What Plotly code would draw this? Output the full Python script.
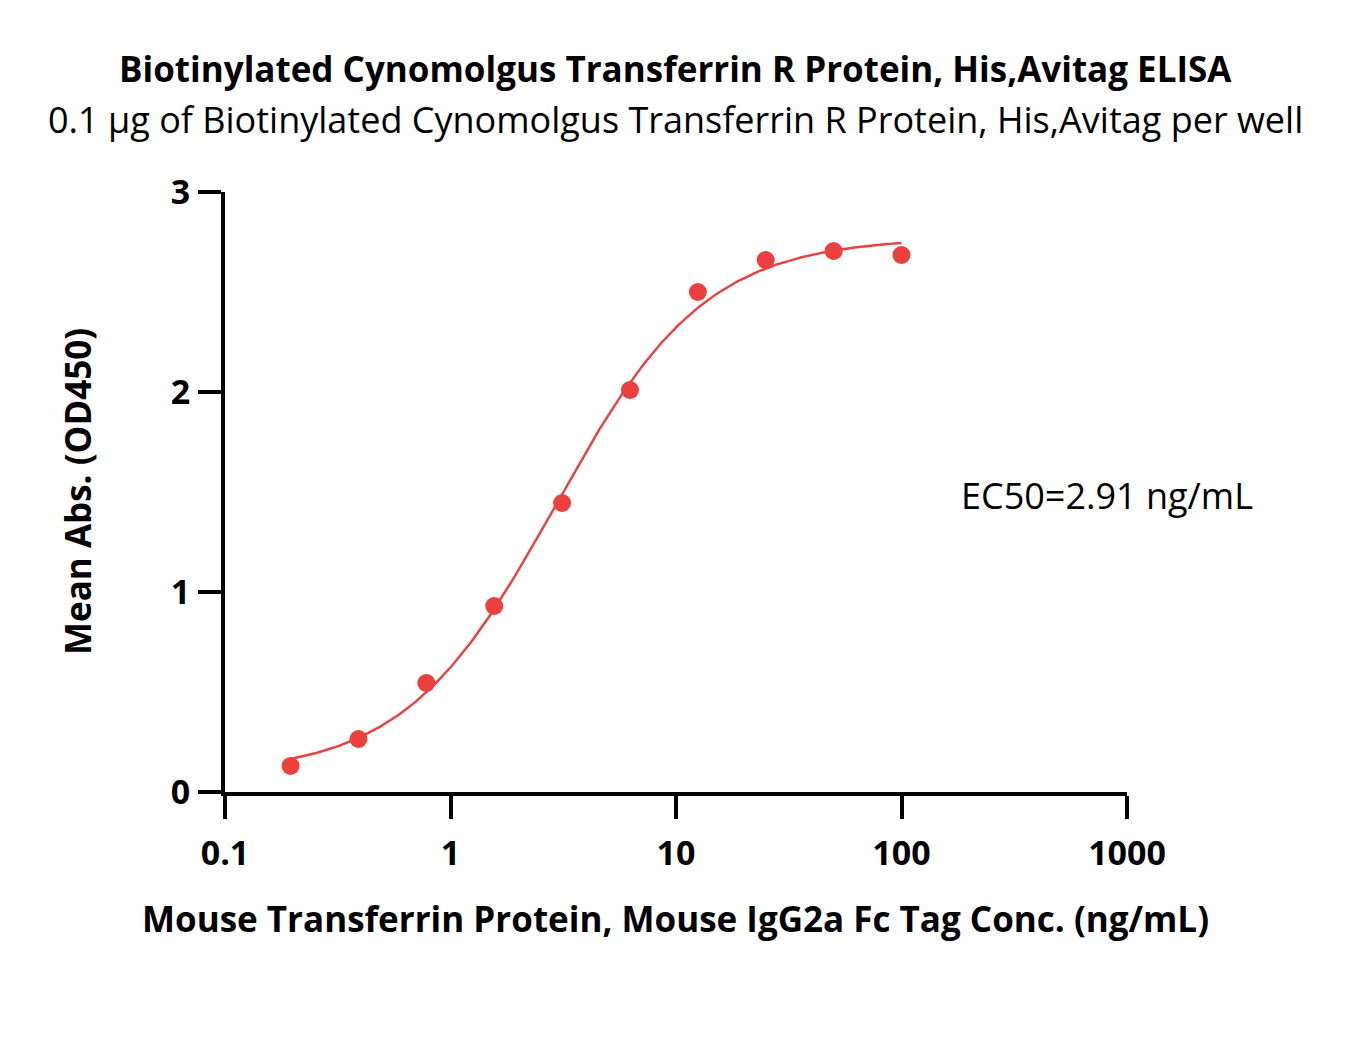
import numpy as np
import plotly.graph_objects as go

# Data
conc = [0.1953, 0.3906, 0.7813, 1.5625, 3.125, 6.25, 12.5, 25, 50, 100]
absorb = [0.13, 0.265, 0.545, 0.93, 1.445, 2.01, 2.50, 2.66, 2.705, 2.685]

# 4-parameter logistic fit parameters (estimated from the drawn curve)
fit_bottom = 0.087
fit_top = 2.772
fit_ec50 = 2.91
fit_hill = 1.3

x_ticks = [0.1, 1, 10, 100, 1000]
x_tick_text = ["0.1", "1", "10", "100", "1000"]
y_ticks = [0, 1, 2, 3]

title = "Biotinylated Cynomolgus Transferrin R Protein, His,Avitag ELISA"
subtitle = "0.1 µg of Biotinylated Cynomolgus Transferrin R Protein, His,Avitag per well"
x_title = "Mouse Transferrin Protein, Mouse IgG2a Fc Tag Conc. (ng/mL)"
y_title = "Mean Abs. (OD450)"
ec50_label = "EC50=2.91 ng/mL"

red = "#EF3E3E"
font = "Open Sans"

W, H = 1350, 1038
OFF = 8  # page body offset
L, R, T, B = 225 - OFF, 1127 - OFF, 192 - OFF, 792 - OFF


def px(x):
    return (x - OFF - L) / (R - L)


def py(y):
    return 1 - (y - OFF - T) / (B - T)


xc = np.logspace(np.log10(min(conc)), np.log10(max(conc)), 300)
yc = fit_bottom + (fit_top - fit_bottom) / (1 + (fit_ec50 / xc) ** fit_hill)

fig = go.Figure()
fig.add_trace(go.Scatter(x=xc, y=yc, mode="lines", line=dict(color=red, width=2.4),
                         hoverinfo="skip", showlegend=False))
fig.add_trace(go.Scatter(x=conc, y=absorb, mode="markers",
                         marker=dict(color=red, size=18, line=dict(width=0)),
                         showlegend=False))

tickfont = dict(family=font, size=34, color="black", weight="bold")
fig.update_layout(
    width=W, height=H,
    margin=dict(l=L, r=W - R, t=T, b=H - B),
    plot_bgcolor="white", paper_bgcolor="white",
    font=dict(family=font, color="black"),
    xaxis=dict(type="log", range=[-1, 3], tickvals=x_ticks, ticktext=x_tick_text,
               showline=True, linecolor="black", linewidth=4,
               ticks="outside", ticklen=23, tickwidth=4, tickcolor="black",
               showgrid=False, zeroline=False, tickfont=tickfont,
               ticklabelstandoff=5),
    yaxis=dict(range=[0, 3], tickvals=y_ticks,
               showline=True, linecolor="black", linewidth=4,
               ticks="outside", ticklen=23, tickwidth=4, tickcolor="black",
               showgrid=False, zeroline=False, tickfont=tickfont,
               ticklabelstandoff=1),
)

texts = [
    (f"<b>{title}</b>", 675, 68, 35, 0),
    (subtitle, 675, 120, 36, 0),
    (f"<b>{x_title}</b>", 675, 918, 35, 0),
    (f"<b>{y_title}</b>", 77, 492, 35, -90),
    (ec50_label, 1107, 495, 36, 0),
]
for text, x, y, size, angle in texts:
    fig.add_annotation(x=px(x), xref="paper", y=py(y), yref="paper",
                       text=text, showarrow=False, textangle=angle,
                       xanchor="center", yanchor="middle",
                       font=dict(family=font, size=size, color="black"))

fig.write_html("out.html")
